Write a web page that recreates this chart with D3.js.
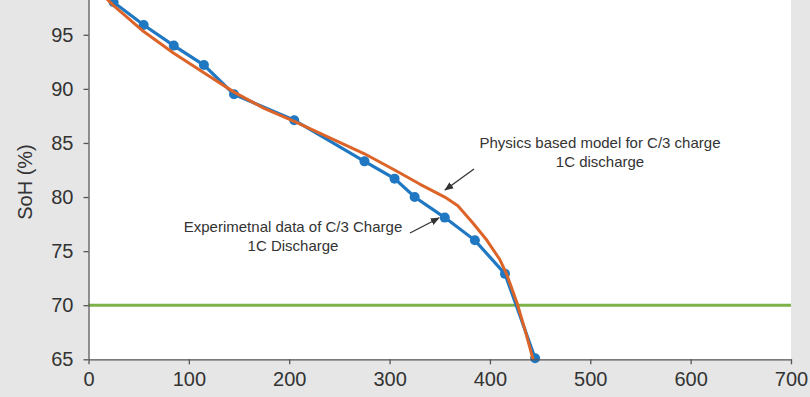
<!DOCTYPE html>
<meta charset="utf-8">
<style>
  html, body { margin: 0; padding: 0; background: #e6e6e6; overflow: hidden; }
  svg { display: block; font-family: "Liberation Sans", Arial, sans-serif; }
  .axis text { font-size: 20px; fill: #333; }
  .axis path, .axis line { stroke: #555; stroke-width: 1.3; }
  .note { font-size: 15px; fill: #333; }
</style>
<body>
</body>
<script src="https://cdn.jsdelivr.net/npm/d3@7"></script>
<script>
  // experimental data, C/3 charge 1C discharge
  const expCycles = [0, 25, 55, 85, 115, 145, 205, 275, 305, 325, 355, 385, 415, 445];
  const expSoh = [100, 98.0, 95.9, 94.0, 92.2, 89.5, 87.1, 83.3, 81.7, 80.0, 78.1, 76.0, 72.9, 65.1];

  // physics based model
  const modelCycles = [0, 25, 55, 85, 115, 145, 175, 205, 240, 275, 305, 330, 355, 368, 383, 397, 410, 417, 427, 435, 443];
  const modelSoh = [100, 97.7, 95.3, 93.3, 91.5, 89.7, 88.2, 87.0, 85.5, 84.0, 82.5, 81.2, 80.0, 79.2, 77.6, 76.0, 74.2, 72.8, 70.2, 67.7, 65.0];

  const eolSoh = 70;
  const xTicks = [0, 100, 200, 300, 400, 500, 600, 700];
  const yTicks = [65, 70, 75, 80, 85, 90, 95];

  const w = 810, h = 397;
  const l = 88.5, r = 791, t = -19.3, b = 359.3;

  const svg = d3.select('body').append('svg')
    .attr('width', w)
    .attr('height', h);

  const x = d3.scaleLinear().domain([0, 700]).range([l, r]);
  const y = d3.scaleLinear().domain([65, 100]).range([b, t]);

  // plot area
  svg.append('rect')
    .attr('x', l).attr('y', t)
    .attr('width', r - l).attr('height', b - t)
    .attr('fill', 'white');

  // 70% end of life line
  svg.append('line')
    .attr('x1', x(0)).attr('x2', x(700))
    .attr('y1', y(eolSoh)).attr('y2', y(eolSoh))
    .attr('stroke', '#7db249')
    .attr('stroke-width', 3);

  const line = d3.line().x(d => x(d[0])).y(d => y(d[1]));

  const expData = expCycles.map((c, i) => [c, expSoh[i]]);
  const modelData = modelCycles.map((c, i) => [c, modelSoh[i]]);

  svg.append('path')
    .datum(expData)
    .attr('d', line)
    .attr('fill', 'none')
    .attr('stroke', '#1f78c1')
    .attr('stroke-width', 3.2);

  svg.append('g').selectAll('circle')
    .data(expData.slice(1))
    .join('circle')
    .attr('cx', d => x(d[0]))
    .attr('cy', d => y(d[1]))
    .attr('r', 5)
    .attr('fill', '#1f78c1');

  svg.append('path')
    .datum(modelData)
    .attr('d', line)
    .attr('fill', 'none')
    .attr('stroke', '#dc6428')
    .attr('stroke-width', 3)
    .attr('stroke-linejoin', 'round');

  // axes
  svg.append('g')
    .attr('class', 'axis')
    .attr('transform', `translate(0, ${b})`)
    .call(d3.axisBottom(x).tickValues(xTicks).tickSize(5).tickPadding(8).tickSizeOuter(0))
    .call(g => g.selectAll('text').attr('dy', '0.71em'));

  svg.append('g')
    .attr('class', 'axis')
    .attr('transform', `translate(${l}, 0)`)
    .call(d3.axisLeft(y).tickValues(yTicks).tickSize(5).tickPadding(10).tickSizeOuter(0));

  svg.append('text')
    .attr('transform', `translate(32, 182) rotate(-90)`)
    .attr('text-anchor', 'middle')
    .attr('font-size', 20)
    .attr('fill', '#333')
    .text('SoH (%)');

  // annotations
  svg.append('defs').append('marker')
    .attr('id', 'arrow')
    .attr('viewBox', '0 0 10 10')
    .attr('refX', 9).attr('refY', 5)
    .attr('markerWidth', 7).attr('markerHeight', 7)
    .attr('orient', 'auto')
    .append('path')
    .attr('d', 'M0,1 L10,5 L0,9 z')
    .attr('fill', '#333');

  const notes = [
    {lines: ['Physics based model for C/3 charge', '1C discharge'], cx: 600, cy: 148,
     from: [474, 169], to: [445, 190]},
    {lines: ['Experimetnal data of C/3 Charge', '1C Discharge'], cx: 293, cy: 232,
     from: [410, 233], to: [439, 218]},
  ];

  notes.forEach(n => {
    const tx = svg.append('text')
      .attr('class', 'note')
      .attr('text-anchor', 'middle');
    n.lines.forEach((s, i) => {
      tx.append('tspan')
        .attr('x', n.cx)
        .attr('y', n.cy + i * 19)
        .text(s);
    });
    svg.append('line')
      .attr('x1', n.from[0]).attr('y1', n.from[1])
      .attr('x2', n.to[0]).attr('y2', n.to[1])
      .attr('stroke', '#333')
      .attr('stroke-width', 1.3)
      .attr('marker-end', 'url(#arrow)');
  });
</script>
